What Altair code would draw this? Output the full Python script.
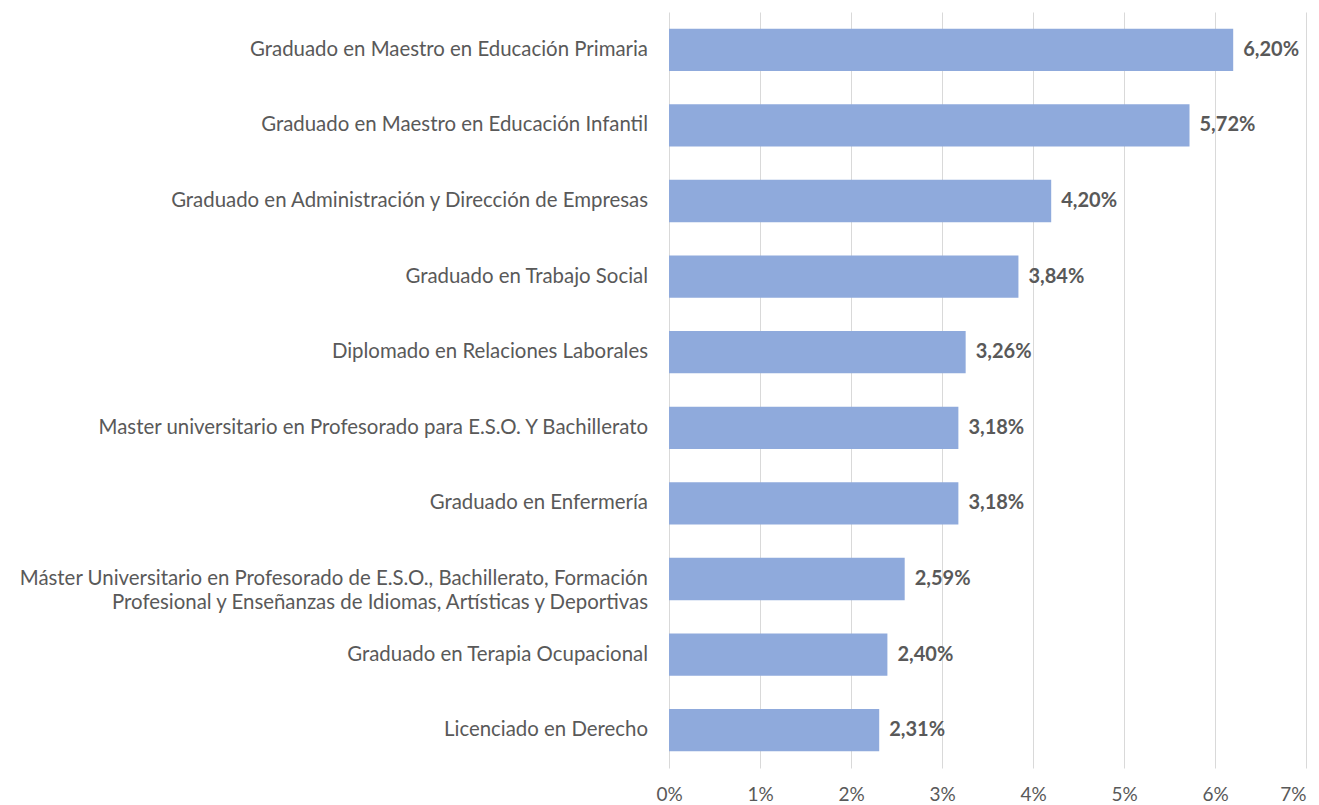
import altair as alt
import pandas as pd

categories = [
    "Graduado en Maestro en Educación Primaria",
    "Graduado en Maestro en Educación Infantil",
    "Graduado en Administración y Dirección de Empresas",
    "Graduado en Trabajo Social",
    "Diplomado en Relaciones Laborales",
    "Master universitario en Profesorado para E.S.O. Y Bachillerato",
    "Graduado en Enfermería",
    "Máster Universitario en Profesorado de E.S.O., Bachillerato, Formación\nProfesional y Enseñanzas de Idiomas, Artísticas y Deportivas",
    "Graduado en Terapia Ocupacional",
    "Licenciado en Derecho",
]
values = [6.20, 5.72, 4.20, 3.84, 3.26, 3.18, 3.18, 2.59, 2.40, 2.31]
tick_values = [0, 0.01, 0.02, 0.03, 0.04, 0.05, 0.06, 0.07]

df = pd.DataFrame({
    "cat": categories,
    "val": [v / 100 for v in values],
    "lbl": [f"{v:.2f}".replace(".", ",") + "%" for v in values],
    "order": list(range(len(categories))),
})

FONT = "Lato"
GRAY = "#595959"

y_enc = alt.Y("cat:N", sort=alt.EncodingSortField(field="order"), axis=None,
              scale=alt.Scale(paddingInner=0.44, paddingOuter=0.22))

bars = alt.Chart(df).mark_bar(color="#8faadc").encode(
    x=alt.X("val:Q", scale=alt.Scale(domain=[0, 0.07], nice=False),
            axis=alt.Axis(values=tick_values, format=".0%", title=None,
                          domain=False, ticks=False, grid=True,
                          gridColor="#d9d9d9", gridWidth=1, labelFlush=False,
                          labelAlign=alt.expr("datum.value >= 0.07 ? 'right' : 'center'"),
                          labelColor=GRAY, labelFont=FONT, labelFontSize=19,
                          labelPadding=17)),
    y=y_enc,
)

vals = alt.Chart(df).mark_text(align="left", baseline="middle", dx=10,
                               font=FONT, fontSize=20, fontWeight="bold",
                               color=GRAY).encode(
    x="val:Q", y=y_enc, text="lbl:N")

cats = alt.Chart(df).mark_text(align="right", baseline="middle", lineBreak="\n",
                               font=FONT, fontSize=20.4, color=GRAY,
                               lineHeight=24).encode(
    x=alt.value(-21), y=y_enc, text="cat:N")

chart = alt.layer(bars, vals, cats).properties(
    width=637, height=756,
    autosize=alt.AutoSizeParams(type="none"),
    padding={"left": 661, "top": 4, "right": 5, "bottom": 37},
).configure_view(stroke=None)

chart.save("out.html", embed_options={"renderer": "svg", "actions": False})
